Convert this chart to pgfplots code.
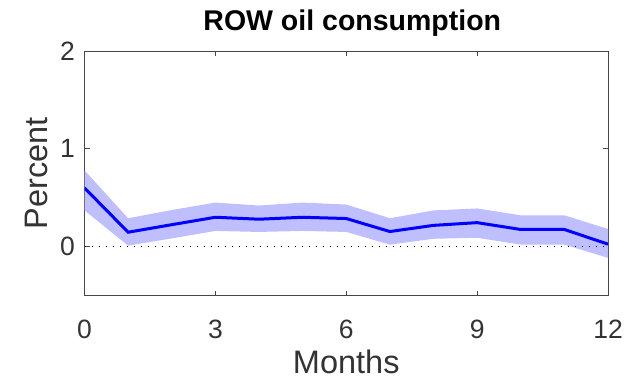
\documentclass[border=0pt]{standalone}
\usepackage{pgfplots}
\pgfplotsset{compat=1.18}
\usepgfplotslibrary{fillbetween}
\usepackage{fontspec}
\setmainfont{Liberation Sans}
\definecolor{band}{RGB}{191,191,255}
\definecolor{axgray}{RGB}{70,70,70}
\begin{document}
\begin{tikzpicture}
\begin{axis}[
  name=ax,
  scale only axis,
  width=523.5pt, height=244.5pt,
  xmin=0, xmax=12, ymin=-0.5, ymax=2,
  xtick={0,3,6,9,12}, ytick={0,1,2},
  tick align=inside,
  major tick length=5pt,
  axis line style={axgray, line width=0.8pt},
  every tick/.style={axgray, line width=0.8pt},
  /pgf/number format/assume math mode=true,
  tick label style={font=\fontsize{26.5}{30}\selectfont, color=black!80, inner sep=0pt},
  xticklabel style={anchor=base, yshift=-42.5pt},
  yticklabel style={anchor=east, xshift=-9.5pt},
  title={ROW oil consumption},
  title style={at={(axis description cs:0.5,1)}, anchor=base, yshift=14.3pt, xshift=6pt, inner sep=0pt, font=\bfseries\fontsize{28.5}{32}\selectfont},
  xlabel={Months},
  xlabel style={at={(axis description cs:0.5,0)}, anchor=base, yshift=-78pt, inner sep=0pt, font=\fontsize{32.5}{36}\selectfont, color=black!80},
  ylabel={Percent},
  ylabel shift=12.5pt,
  ylabel style={inner sep=0pt, font=\fontsize{32.5}{36}\selectfont, color=black!80},
]
\addplot[name path=up, draw=none, forget plot] coordinates {
(0,0.78) (1,0.29) (2,0.374) (3,0.45) (4,0.42) (5,0.45) (6,0.43) (7,0.29) (8,0.37) (9,0.39) (10,0.32) (11,0.32) (12,0.18)};
\addplot[name path=lo, draw=none, forget plot] coordinates {
(0,0.37) (1,0.01) (2,0.084) (3,0.16) (4,0.15) (5,0.16) (6,0.15) (7,0.02) (8,0.08) (9,0.09) (10,0.02) (11,0.02) (12,-0.115)};
\addplot[band, draw=none] fill between[of=up and lo];
\addplot[black, line width=1.5pt, dash pattern=on 1.3pt off 5.7pt] coordinates {(0,0) (12,0)};
\addplot[blue, line width=3pt] coordinates {
(0,0.60) (1,0.147) (2,0.224) (3,0.30) (4,0.28) (5,0.30) (6,0.287) (7,0.154) (8,0.217) (9,0.245) (10,0.175) (11,0.175) (12,0.025)};
\end{axis}
\path ([shift={(-84.5pt,-84.5pt)}]ax.south west) rectangle ([shift={(17pt,51pt)}]ax.north east);
\end{tikzpicture}
\end{document}
